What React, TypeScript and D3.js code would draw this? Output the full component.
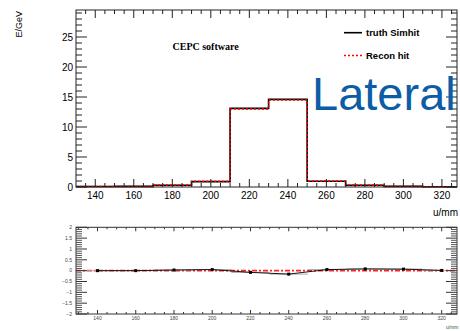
import React from "react";
import * as d3 from "d3";

// Bin layout: 10 bins of 20 mm starting at 130 mm
const binStart = 130;
const binWidth = 20;
const binCenters = [140, 160, 180, 200, 220, 240, 260, 280, 300, 320];

// Deposited energy per bin (GeV)
const truthSimhit = [0.08, 0.1, 0.3, 0.9, 13.1, 14.6, 0.95, 0.3, 0.1, 0.05];
const reconHit = [0.08, 0.1, 0.32, 0.95, 13.0, 14.5, 1.0, 0.33, 0.12, 0.06];

// Lower panel: per-bin deviation
const deviation = [0.0, 0.0, 0.03, 0.05, -0.08, -0.16, 0.05, 0.08, 0.07, 0.01];

const xTicksMajor = [140, 160, 180, 200, 220, 240, 260, 280, 300, 320];
const yTicksTop = [0, 5, 10, 15, 20, 25];
const yTicksBottom = [-2, -1.5, -1, -0.5, 0, 0.5, 1, 1.5, 2];

const W = 460;
const H = 331;
const FL = 76; // frame left
const FR = 457; // frame right

const sans = "'Liberation Sans', Arial, Helvetica, sans-serif";
const serif = "'Liberation Serif', 'Times New Roman', serif";

function histPath(values: number[], x: d3.ScaleLinear<number, number>, y: d3.ScaleLinear<number, number>) {
  let p = `M${x(binStart)},${y(0)}`;
  values.forEach((v, i) => {
    p += `V${y(v)}H${x(binStart + (i + 1) * binWidth)}`;
  });
  p += `V${y(0)}`;
  return p;
}

export default function App() {
  // Upper panel scales
  const x = d3.scaleLinear().domain([130, 330]).range([76, 461.2]);
  const y = d3.scaleLinear().domain([0, 29.5]).range([187, 10]);
  const yTop = y.range()[1];
  const yBot = y.range()[0];

  // Lower panel scales
  const xb = d3.scaleLinear().domain([140, 320]).range([97.5, 441.7]);
  const yb = d3.scaleLinear().domain([-2, 2]).range([314, 227.3]);
  const bTop = yb(2);
  const bBot = yb(-2);

  const xMinor = d3.range(130, 335, 5).filter((v) => x(v) > FL + 0.5 && x(v) < FR - 0.5);
  const xbMinor = d3.range(125, 335, 5).filter((v) => xb(v) > FL + 0.5 && xb(v) < FR - 0.5);
  const yMinor = d3.range(0, 30, 1).filter((v) => v % 5 !== 0);
  const ybMinor = d3.range(-20, 21, 1).map((v) => v / 10).filter((v) => Math.round(v * 10) % 5 !== 0);

  const devLine = d3
    .line<number>()
    .x((_, i) => xb(binCenters[i]))
    .y((d) => yb(d));

  const axisColor = "#222";

  return (
    <svg
      width={W}
      height={H}
      style={{ position: "absolute", left: 0, top: 0, background: "#fff" }}
      fontFamily={sans}
    >
      <defs>
        <clipPath id="topClip">
          <rect x={FL} y={yTop} width={FR - FL} height={yBot - yTop + 1} />
        </clipPath>
        <clipPath id="botClip">
          <rect x={FL} y={bTop} width={FR - FL} height={bBot - bTop} />
        </clipPath>
      </defs>

      {/* ===== Upper panel ===== */}
      <g clipPath="url(#topClip)">
        <path d={histPath(truthSimhit, x, y)} fill="none" stroke="#000" strokeWidth={1.6} />
        <path
          d={histPath(reconHit, x, y)}
          fill="none"
          stroke="#ff0000"
          strokeWidth={1.5}
          strokeDasharray="2 2"
        />
      </g>

      {/* frame */}
      <rect x={FL} y={yTop} width={FR - FL} height={yBot - yTop} fill="none" stroke={axisColor} strokeWidth={1} />

      {/* x ticks (bottom & top) */}
      {xTicksMajor.map((v) => (
        <g key={"xm" + v}>
          <line x1={x(v)} x2={x(v)} y1={yBot} y2={yBot - 8} stroke={axisColor} />
          <line x1={x(v)} x2={x(v)} y1={yTop} y2={yTop + 8} stroke={axisColor} />
          <text x={x(v)} y={yBot + 12} fontSize={10} textAnchor="middle" fill="#000">
            {v}
          </text>
        </g>
      ))}
      {xMinor
        .filter((v) => v % 20 !== 0)
        .map((v) => (
          <g key={"xn" + v}>
            <line x1={x(v)} x2={x(v)} y1={yBot} y2={yBot - 4} stroke={axisColor} />
            <line x1={x(v)} x2={x(v)} y1={yTop} y2={yTop + 4} stroke={axisColor} />
          </g>
        ))}

      {/* y ticks (left & right) */}
      {yTicksTop.map((v) => (
        <g key={"ym" + v}>
          <line x1={FL} x2={FL + 11} y1={y(v)} y2={y(v)} stroke={axisColor} />
          <line x1={FR} x2={FR - 11} y1={y(v)} y2={y(v)} stroke={axisColor} />
          <text x={FL - 3} y={y(v) + 3.6} fontSize={10} textAnchor="end" fill="#000">
            {v}
          </text>
        </g>
      ))}
      {yMinor.map((v) => (
        <g key={"yn" + v}>
          <line x1={FL} x2={FL + 6} y1={y(v)} y2={y(v)} stroke={axisColor} />
          <line x1={FR} x2={FR - 6} y1={y(v)} y2={y(v)} stroke={axisColor} />
        </g>
      ))}

      {/* axis titles */}
      <text
        transform={`translate(22,11) rotate(-90)`}
        fontSize={9}
        textAnchor="end"
        fill="#000"
      >
        E/GeV
      </text>
      <text x={433} y={216} fontSize={10} fill="#000">
        u/mm
      </text>

      {/* annotations */}
      <text x={172.5} y={50} fontSize={10} fontWeight="bold" fontFamily={serif} fill="#000">
        CEPC software
      </text>

      {/* legend */}
      <line x1={344} x2={362} y1={32.7} y2={32.7} stroke="#000" strokeWidth={1.6} />
      <text x={366} y={36} fontSize={9.5} fontWeight="bold" fill="#000">
        truth Simhit
      </text>
      <line x1={344} x2={362} y1={55.5} y2={55.5} stroke="#ff0000" strokeWidth={1.5} strokeDasharray="2 2" />
      <text x={366} y={59} fontSize={9.5} fontWeight="bold" fill="#000">
        Recon hit
      </text>

      <text x={312} y={110} fontSize={47} fill="#0d5ca6">
        Lateral
      </text>

      {/* ===== Lower panel ===== */}
      <g clipPath="url(#botClip)">
        <line x1={FL} x2={FR} y1={yb(0)} y2={yb(0)} stroke="#ff2020" strokeWidth={1.6} strokeDasharray="5 2 2 2" />
        {deviation.map((d, i) => (
          <line
            key={"eb" + i}
            x1={xb(binCenters[i] - binWidth / 2)}
            x2={xb(binCenters[i] + binWidth / 2)}
            y1={yb(d)}
            y2={yb(d)}
            stroke="#aaa"
            strokeWidth={1}
          />
        ))}
        <path d={devLine(deviation) || ""} fill="none" stroke="#000" strokeWidth={0.9} />
        {deviation.map((d, i) => (
          <rect key={"pt" + i} x={xb(binCenters[i]) - 1.5} y={yb(d) - 1.5} width={3} height={3} fill="#000" />
        ))}
      </g>

      <rect x={FL} y={bTop} width={FR - FL} height={bBot - bTop} fill="none" stroke="#333" strokeWidth={1} />

      {xTicksMajor.map((v) => (
        <g key={"bxm" + v}>
          <line x1={xb(v)} x2={xb(v)} y1={bBot} y2={bBot - 4} stroke="#333" />
          <line x1={xb(v)} x2={xb(v)} y1={bTop} y2={bTop + 4} stroke="#333" />
          <text x={xb(v)} y={bBot + 6} fontSize={5} textAnchor="middle" fill="#444">
            {v}
          </text>
        </g>
      ))}
      {xbMinor
        .filter((v) => v % 20 !== 0)
        .map((v) => (
          <g key={"bxn" + v}>
            <line x1={xb(v)} x2={xb(v)} y1={bBot} y2={bBot - 2} stroke="#333" />
            <line x1={xb(v)} x2={xb(v)} y1={bTop} y2={bTop + 2} stroke="#333" />
          </g>
        ))}

      {yTicksBottom.map((v) => (
        <g key={"bym" + v}>
          <line x1={FL} x2={FL + 11} y1={yb(v)} y2={yb(v)} stroke="#333" />
          <line x1={FR} x2={FR - 11} y1={yb(v)} y2={yb(v)} stroke="#333" />
          <text x={FL - 4} y={yb(v) + 1.8} fontSize={5} textAnchor="end" fill="#444">
            {v < 0 ? "\u2212" + Math.abs(v) : v}
          </text>
        </g>
      ))}
      {ybMinor.map((v) => (
        <g key={"byn" + v}>
          <line x1={FL} x2={FL + 6} y1={yb(v)} y2={yb(v)} stroke="#555" />
          <line x1={FR} x2={FR - 6} y1={yb(v)} y2={yb(v)} stroke="#555" />
        </g>
      ))}

      <text x={446} y={329} fontSize={5} fill="#444">
        u/mm
      </text>
    </svg>
  );
}
